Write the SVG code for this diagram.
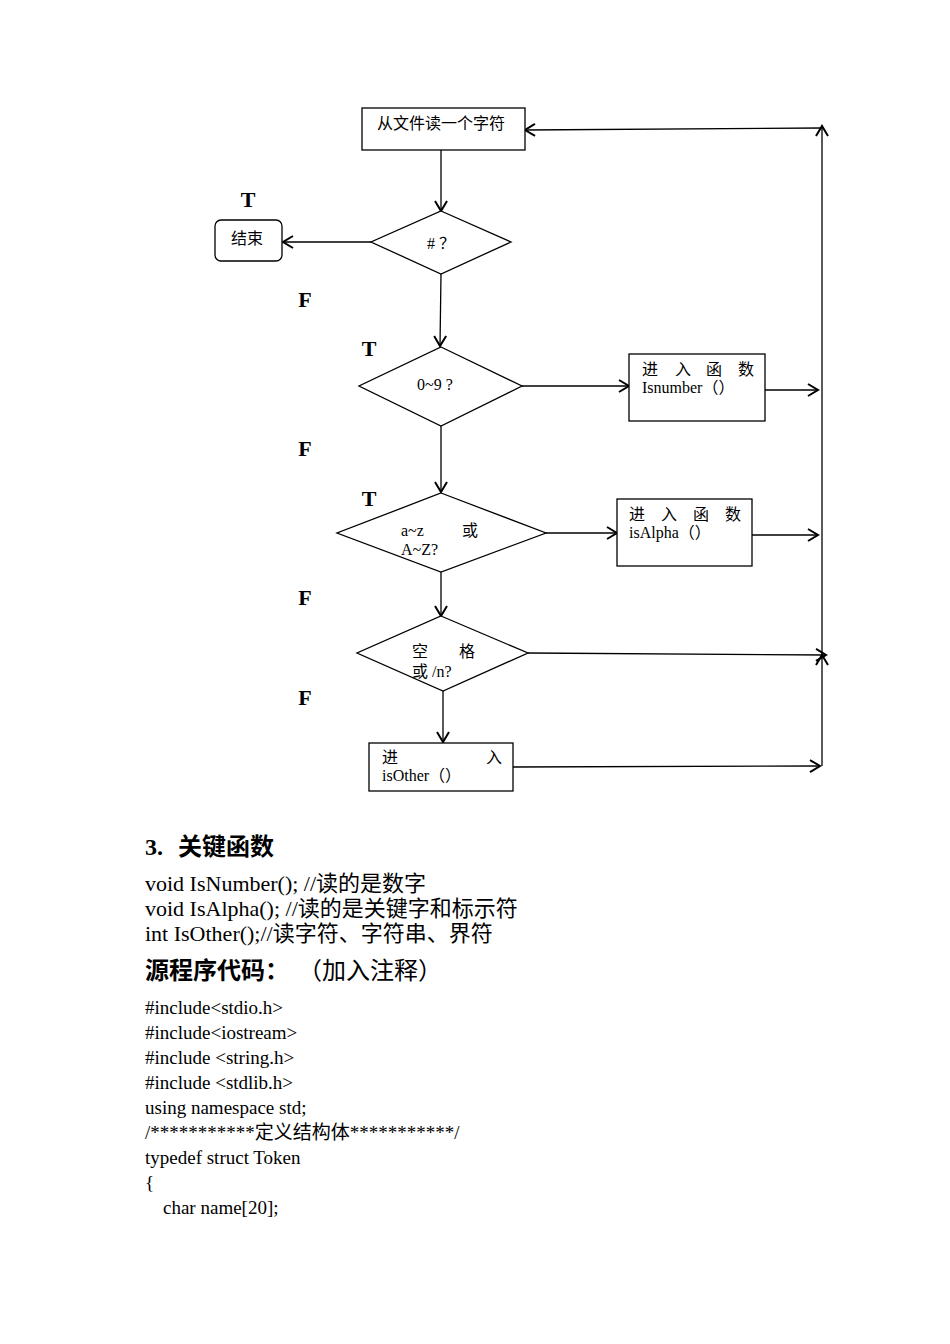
<svg xmlns="http://www.w3.org/2000/svg" width="950" height="1344" viewBox="0 0 950 1344">
<style>
.s{fill:none;stroke:#000;stroke-width:1.3}
.b{fill:#fff;stroke:#000;stroke-width:1.3}
.t{font-family:"Liberation Serif","Noto Sans CJK SC",serif;font-size:16px;fill:#000}
.tf{font-family:"Liberation Serif",serif;font-size:22px;font-weight:bold;fill:#000}
.h{font-family:"Liberation Serif","Noto Sans CJK SC",serif;font-size:24px;font-weight:bold;fill:#000}
.p{font-family:"Liberation Serif","Noto Sans CJK SC",serif;font-size:22px;fill:#000}
.c{font-family:"Liberation Serif","Noto Sans CJK SC",serif;font-size:19px;fill:#000}
</style>
<defs>
<marker id="a" markerUnits="userSpaceOnUse" markerWidth="14" markerHeight="16" viewBox="0 0 14 16" refX="12" refY="8" orient="auto">
<path d="M2,2 L12,8 L2,14" fill="none" stroke="#000" stroke-width="2"/>
</marker>
</defs>
<rect width="950" height="1344" fill="#fff"/>
<g id="connectors">
<path class="s" d="M441,150 L441,211" marker-end="url(#a)"/>
<path class="s" d="M371,242 L283,242" marker-end="url(#a)"/>
<path class="s" d="M441,274 L440,346" marker-end="url(#a)"/>
<path class="s" d="M522,386 L629,386" marker-end="url(#a)"/>
<path class="s" d="M765,390 L818,390" marker-end="url(#a)"/>
<path class="s" d="M441,426 L441,492" marker-end="url(#a)"/>
<path class="s" d="M546,533 L617,533" marker-end="url(#a)"/>
<path class="s" d="M752,535 L818,535" marker-end="url(#a)"/>
<path class="s" d="M441,572 L441,616" marker-end="url(#a)"/>
<path class="s" d="M528,653 L826,655" marker-end="url(#a)"/>
<path class="s" d="M443,691 L443,742" marker-end="url(#a)"/>
<path class="s" d="M513,767 L820,766" marker-end="url(#a)"/>
<path class="s" d="M822,766 L822,655" marker-end="url(#a)"/>
<path class="s" d="M822,655 L822,126" marker-end="url(#a)"/>
<path class="s" d="M822,128 L525,130" marker-end="url(#a)"/>
</g>
<g id="read">
<rect class="b" x="362" y="108" width="163" height="42"/>
<text class="t" x="441" y="129" text-anchor="middle">从文件读一个字符</text>
</g>
<g id="end">
<rect class="b" x="215" y="220" width="67" height="41" rx="6"/>
<text class="t" x="247" y="244" text-anchor="middle">结束</text>
</g>
<g id="d1">
<polygon class="b" points="441,211 511,242 441,274 371,242"/>
<text class="t" x="441" y="249" text-anchor="middle"># ？</text>
</g>
<g id="d2">
<polygon class="b" points="441,347 522,386 441,426 359,386"/>
<text class="t" x="435" y="390" text-anchor="middle">0~9 ?</text>
</g>
<g id="num">
<rect class="b" x="629" y="354" width="136" height="67"/>
<text class="t" x="642 675 706 738" y="375">进入函数</text>
<text class="t" x="642" y="393">Isnumber（）</text>
</g>
<g id="d3">
<polygon class="b" points="441,493 546,533 441,572 337,533"/>
<text class="t" x="401" y="536">a~z</text>
<text class="t" x="462" y="536">或</text>
<text class="t" x="401" y="555">A~Z?</text>
</g>
<g id="alpha">
<rect class="b" x="617" y="499" width="135" height="67"/>
<text class="t" x="629 661 693 725" y="520">进入函数</text>
<text class="t" x="629" y="538">isAlpha（）</text>
</g>
<g id="d4">
<polygon class="b" points="441,616 528,653 443,691 357,653"/>
<text class="t" x="412" y="657">空</text>
<text class="t" x="459" y="657">格</text>
<text class="t" x="412" y="677">或 /n?</text>
</g>
<g id="other">
<rect class="b" x="369" y="743" width="144" height="48"/>
<text class="t" x="382" y="763">进</text>
<text class="t" x="486" y="763">入</text>
<text class="t" x="382" y="781">isOther（）</text>
</g>
<g id="labels">
<text class="tf" x="248" y="207" text-anchor="middle">T</text>
<text class="tf" x="305" y="307" text-anchor="middle">F</text>
<text class="tf" x="369" y="356" text-anchor="middle">T</text>
<text class="tf" x="305" y="456" text-anchor="middle">F</text>
<text class="tf" x="369" y="506" text-anchor="middle">T</text>
<text class="tf" x="305" y="605" text-anchor="middle">F</text>
<text class="tf" x="305" y="705" text-anchor="middle">F</text>
</g>
<g id="body">
<text class="h" y="855"><tspan x="145">3.</tspan><tspan x="178">关键函数</tspan></text>
<text class="p" x="145" y="891">void IsNumber(); //读的是数字</text>
<text class="p" x="145" y="916">void IsAlpha(); //读的是关键字和标示符</text>
<text class="p" x="145" y="941">int IsOther();//读字符、字符串、界符</text>
<text class="h" y="979"><tspan x="145">源程序代码：</tspan><tspan x="298" font-weight="normal">（加入注释）</tspan></text>
<text class="c" x="145" y="1014">#include&lt;stdio.h&gt;</text>
<text class="c" x="145" y="1039">#include&lt;iostream&gt;</text>
<text class="c" x="145" y="1064">#include &lt;string.h&gt;</text>
<text class="c" x="145" y="1089">#include &lt;stdlib.h&gt;</text>
<text class="c" x="145" y="1114">using namespace std;</text>
<text class="c" x="145" y="1139">/***********定义结构体***********/</text>
<text class="c" x="145" y="1164">typedef struct Token</text>
<text class="c" x="145" y="1189">{</text>
<text class="c" x="163" y="1214">char name[20];</text>
</g>
</svg>
